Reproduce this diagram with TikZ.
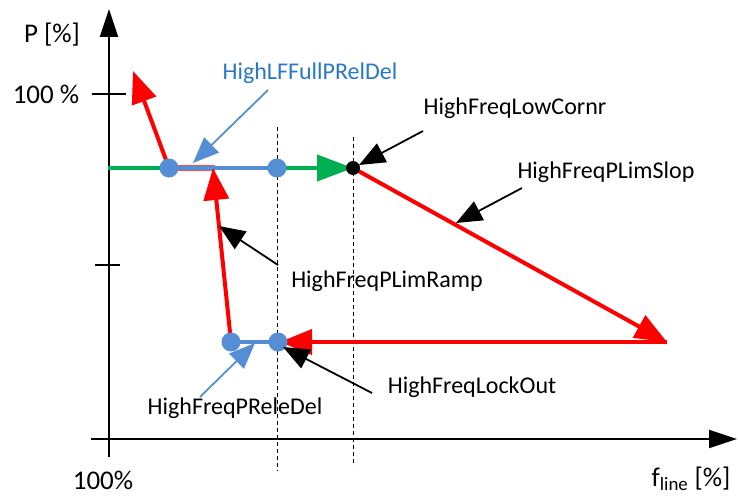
\documentclass[tikz,border=0pt]{standalone}
\usepackage{fontspec}
\setmainfont{Carlito}
\usetikzlibrary{arrows.meta}
\definecolor{myred}{RGB}{255,0,0}
\definecolor{mygreen}{RGB}{0,176,80}
\definecolor{myblue}{RGB}{85,142,213}
\definecolor{mybluetext}{RGB}{40,120,200}
\begin{document}
\begin{tikzpicture}[x=1pt,y=-1pt,
  lbl/.style={font=\fontsize{24}{26}\selectfont, inner sep=0pt, text=black},
  axlbl/.style={font=\fontsize{27}{29}\selectfont, inner sep=0pt, text=black},
  axis/.style={line width=2pt, black},
  bigred/.style={line width=4pt, myred, -{Triangle[length=32pt,width=25pt]}},
  redline/.style={line width=4pt, myred},
  greenarr/.style={line width=4pt, mygreen, -{Triangle[length=36pt,width=26pt]}},
  blueline/.style={line width=4pt, myblue},
  bluedot/.style={circle, fill=myblue, minimum size=19pt, inner sep=0pt},
  blackdot/.style={circle, fill=black, minimum size=14pt, inner sep=0pt},
  annot/.style={line width=1.8pt, black, -{Triangle[length=26pt,width=21pt]}},
  bannot/.style={line width=1.8pt, myblue, -{Triangle[length=26pt,width=21pt]}},
  vdash/.style={line width=0.8pt, black, dash pattern=on 4pt off 3pt}
  ]
\useasboundingbox (0,0) rectangle (738,495);
% axes
\coordinate (yb) at (109,457);
\coordinate (yt) at (109,9);
\coordinate (xl) at (91,439);
\coordinate (xr) at (737,439);
\draw[axis, -{Triangle[length=28pt,width=18pt]}] (yb) -- (yt);
\draw[axis, -{Triangle[length=28pt,width=18pt]}] (xl) -- (xr);
\coordinate (t1a) at (92,94); \coordinate (t1b) at (126,94);
\coordinate (t2a) at (95,265); \coordinate (t2b) at (120,265);
\draw[axis] (t1a) -- (t1b);
\draw[axis] (t2a) -- (t2b);
\node[axlbl] (Plab) at (52,35) {P [\%]};
\node[axlbl] (h100) at (46,94) {100 \%};
\node[axlbl] (x100) at (103,480) {100\%};
\node[axlbl] (flab) at (691,479) {f\textsubscript{line} [\%]};
% dashed lines
\coordinate (d1t) at (277,127); \coordinate (d1b) at (277,471);
\coordinate (d2t) at (353,137); \coordinate (d2b) at (353,466);
\draw[vdash] (d1t) -- (d1b);
\draw[vdash] (d2t) -- (d2b);
% points
\coordinate (g0) at (108,168);
\coordinate (A) at (169,168);
\coordinate (B) at (277,168);
\coordinate (C) at (353,168);
\coordinate (D) at (667,342);
\coordinate (E) at (280,342);
\coordinate (F) at (231,342);
\coordinate (G) at (278,342);
\coordinate (Rtip) at (213,168);
\coordinate (Utip) at (133,71);
\coordinate (rs) at (215,168);
% green
\draw[greenarr] (g0) -- (C);
% red short under blue
\draw[line width=6pt, myred!70] (A) -- (rs);
\draw[blueline] (A) -- (B);
\draw[blueline] (F) -- (G);
% red arrows
\draw[bigred] (A) -- (Utip);
\draw[bigred] (F) -- (Rtip);
\draw[bigred] (C) -- (D);
\draw[bigred] (D) -- (E);
% dots
\node[bluedot] (dA) at (A) {};
\node[bluedot] (dB) at (B) {};
\node[bluedot] (dF) at (F) {};
\node[bluedot] (dG) at (G) {};
\node[blackdot] (dC) at (C) {};
% labels
\node[lbl, text=mybluetext] (L1) at (310,73) {HighLFFullPRelDel};
\node[lbl] (L2) at (515,108) {HighFreqLowCornr};
\node[lbl] (L3) at (606,172) {HighFreqPLimSlop};
\node[lbl] (L4) at (387,281) {HighFreqPLimRamp};
\node[lbl] (L5) at (472,387) {HighFreqLockOut};
\node[lbl] (L6) at (235,408) {HighFreqPReleDel};
% annotation arrows
\coordinate (a1s) at (268,90); \coordinate (a1e) at (193,163);
\coordinate (a2s) at (423,131); \coordinate (a2e) at (359,165);
\coordinate (a3s) at (522,188); \coordinate (a3e) at (456,223);
\coordinate (a4s) at (278,265); \coordinate (a4e) at (219,226);
\coordinate (a5s) at (372,393); \coordinate (a5e) at (283,347);
\coordinate (a6s) at (200,397); \coordinate (a6e) at (255,343);
\draw[bannot] (a1s) -- (a1e);
\draw[annot] (a2s) -- (a2e);
\draw[annot] (a3s) -- (a3e);
\draw[annot] (a4s) -- (a4e);
\draw[annot] (a5s) -- (a5e);
\draw[bannot] (a6s) -- (a6e);
\end{tikzpicture}
\end{document}
